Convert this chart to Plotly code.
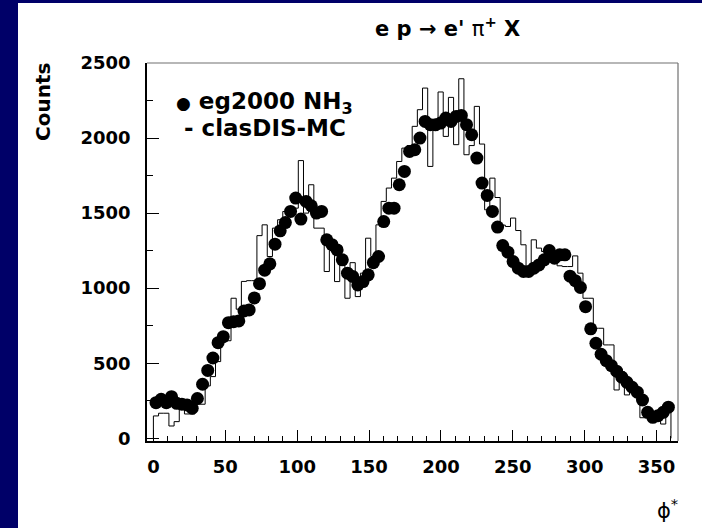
import numpy as np
import plotly.graph_objects as go

# ---------------- data ----------------
bin_width = 3.6
phi_min, phi_max = 0.0, 360.0

data_counts = [237, 260, 237, 277, 233, 227, 222, 200, 265, 360,
               452, 535, 637, 677, 770, 777, 782, 848, 855, 935,
               1030, 1120, 1162, 1293, 1382, 1437, 1511, 1600, 1460, 1578,
               1549, 1500, 1511, 1322, 1290, 1255, 1189, 1100, 1078, 1022,
               1044, 1089, 1170, 1211, 1444, 1533, 1533, 1689, 1778, 1911,
               1922, 2000, 2111, 2089, 2089, 2100, 2133, 2111, 2144, 2151,
               2089, 2022, 1867, 1700, 1618, 1511, 1407, 1284, 1240, 1177,
               1133, 1111, 1111, 1133, 1155, 1189, 1251, 1200, 1222, 1222,
               1080, 1050, 1005, 877, 729, 633, 560, 517, 484, 447,
               407, 373, 340, 307, 255, 173, 140, 151, 173, 207]

mc_counts = [149, 167, 167, 82, 111, 200, 162, 162, 227, 227,
             349, 411, 511, 644, 650, 933, 860, 1045, 1050, 1050,
             1350, 1422, 1211, 1400, 1456, 1511, 1533, 1533, 1850, 1500,
             1689, 1400, 1400, 1111, 1250, 1044, 1200, 933, 1170, 944,
             1100, 1333, 1211, 1422, 1578, 1667, 1733, 1844, 1933, 1950,
             2078, 2189, 2333, 1811, 2050, 2307, 2011, 2271, 1956, 2395,
             1889, 1950, 2211, 1960, 1522, 1733, 1604, 1420, 1411, 1467,
             1384, 1289, 1100, 1322, 1267, 1244, 1222, 1215, 1149, 1144,
             1144, 1215, 1100, 933, 933, 733, 733, 622, 622, 322,
             444, 289, 320, 300, 137, 137, 137, 137, 95, 211]

x_tick_vals = [0, 50, 100, 150, 200, 250, 300, 350]
y_tick_vals = [0, 500, 1000, 1500, 2000, 2500]

title_text = "e p \u2192 e' <span style='font-weight:normal'>\u03c0</span><sup>+</sup> X"
ytitle_text = "Counts"
xtitle_text = "\u03d5<sup>*</sup>"
legend_data = "<span style='font-size:17px'>\u25cf</span> eg2000 NH<sub>3</sub>"
legend_mc = " - clasDIS-MC"

# ---------------- derived ----------------
edges = np.arange(phi_min, phi_max + bin_width / 2, bin_width)
centers = edges[:-1] + bin_width / 2
hist_x = np.concatenate([[edges[0]], edges[:-1], [edges[-1]], [edges[-1]]])
hist_y = np.concatenate([[0], mc_counts, [mc_counts[-1]], [0]])

NAVY = "#000068"
FONT = "DejaVu Sans"

fig = go.Figure()
fig.add_trace(go.Scatter(x=hist_x, y=hist_y, mode="lines",
                         line=dict(color="black", width=1, shape="hv"),
                         showlegend=False, hoverinfo="skip"))
fig.add_trace(go.Scatter(x=centers, y=data_counts, mode="markers",
                         marker=dict(color="black", size=13, line=dict(width=0)),
                         showlegend=False))

W, H = 702, 528
L, R, T, B = 147, 678, 63, 441
pw, ph = R - L, B - T


def px2x(px):
    return (px - L) / pw


def py2y(py):
    return (B - py) / ph


axis_common = dict(showgrid=False, zeroline=False, showline=True, linecolor="black",
                   linewidth=1.5, ticks="inside", tickcolor="black", tickwidth=1,
                   tickfont=dict(family=FONT, size=18, color="black", weight="bold"))

fig.update_xaxes(range=[-4.45, 364.9], tickvals=x_tick_vals, ticklen=11,
                 minor=dict(dtick=10, ticks="inside", ticklen=5, tickcolor="black", tickwidth=1),
                 ticklabelstandoff=9, **axis_common)
fig.update_yaxes(range=[-18, 2500], tickvals=y_tick_vals, ticklen=12,
                 minor=dict(dtick=250, ticks="inside", ticklen=6, tickcolor="black", tickwidth=1),
                 ticklabelstandoff=11, **axis_common)

shapes = [
    dict(type="rect", xref="paper", yref="paper", x0=px2x(-5), x1=px2x(18), y0=py2y(540), y1=py2y(-5),
         fillcolor=NAVY, line=dict(width=0), layer="below"),
    dict(type="rect", xref="paper", yref="paper", x0=px2x(-5), x1=px2x(710), y0=py2y(3), y1=py2y(-5),
         fillcolor=NAVY, line=dict(width=0), layer="below"),
    dict(type="line", xref="paper", yref="paper", x0=0, x1=1, y0=1, y1=1,
         line=dict(color="#707070", width=1.2)),
    dict(type="line", xref="paper", yref="paper", x0=1, x1=1, y0=0, y1=1,
         line=dict(color="#707070", width=1.2)),
]

annotations = [
    dict(text=title_text, x=px2x(447), y=py2y(27), xref="paper", yref="paper",
         showarrow=False, xanchor="center", yanchor="middle",
         font=dict(family=FONT, size=21, color="black", weight="bold")),
    dict(text=ytitle_text, x=px2x(43), y=py2y(102), xref="paper", yref="paper",
         showarrow=False, xanchor="center", yanchor="middle", textangle=-90,
         font=dict(family=FONT, size=20, color="black", weight="bold")),
    dict(text=xtitle_text, x=px2x(667), y=py2y(509), xref="paper", yref="paper",
         showarrow=False, xanchor="center", yanchor="middle",
         font=dict(family=FONT, size=21, color="black")),
    dict(text=legend_data, x=px2x(174), y=py2y(103), xref="paper", yref="paper",
         showarrow=False, xanchor="left", yanchor="middle",
         font=dict(family=FONT, size=23, color="black", weight="bold")),
    dict(text=legend_mc, x=px2x(174), y=py2y(128), xref="paper", yref="paper",
         showarrow=False, xanchor="left", yanchor="middle",
         font=dict(family=FONT, size=23, color="black", weight="bold")),
]

fig.update_layout(width=W, height=H, margin=dict(l=L, r=W - R, t=T, b=H - B, pad=0),
                  paper_bgcolor="white", plot_bgcolor="white",
                  shapes=shapes, annotations=annotations, showlegend=False)

fig.write_html("out.html")
